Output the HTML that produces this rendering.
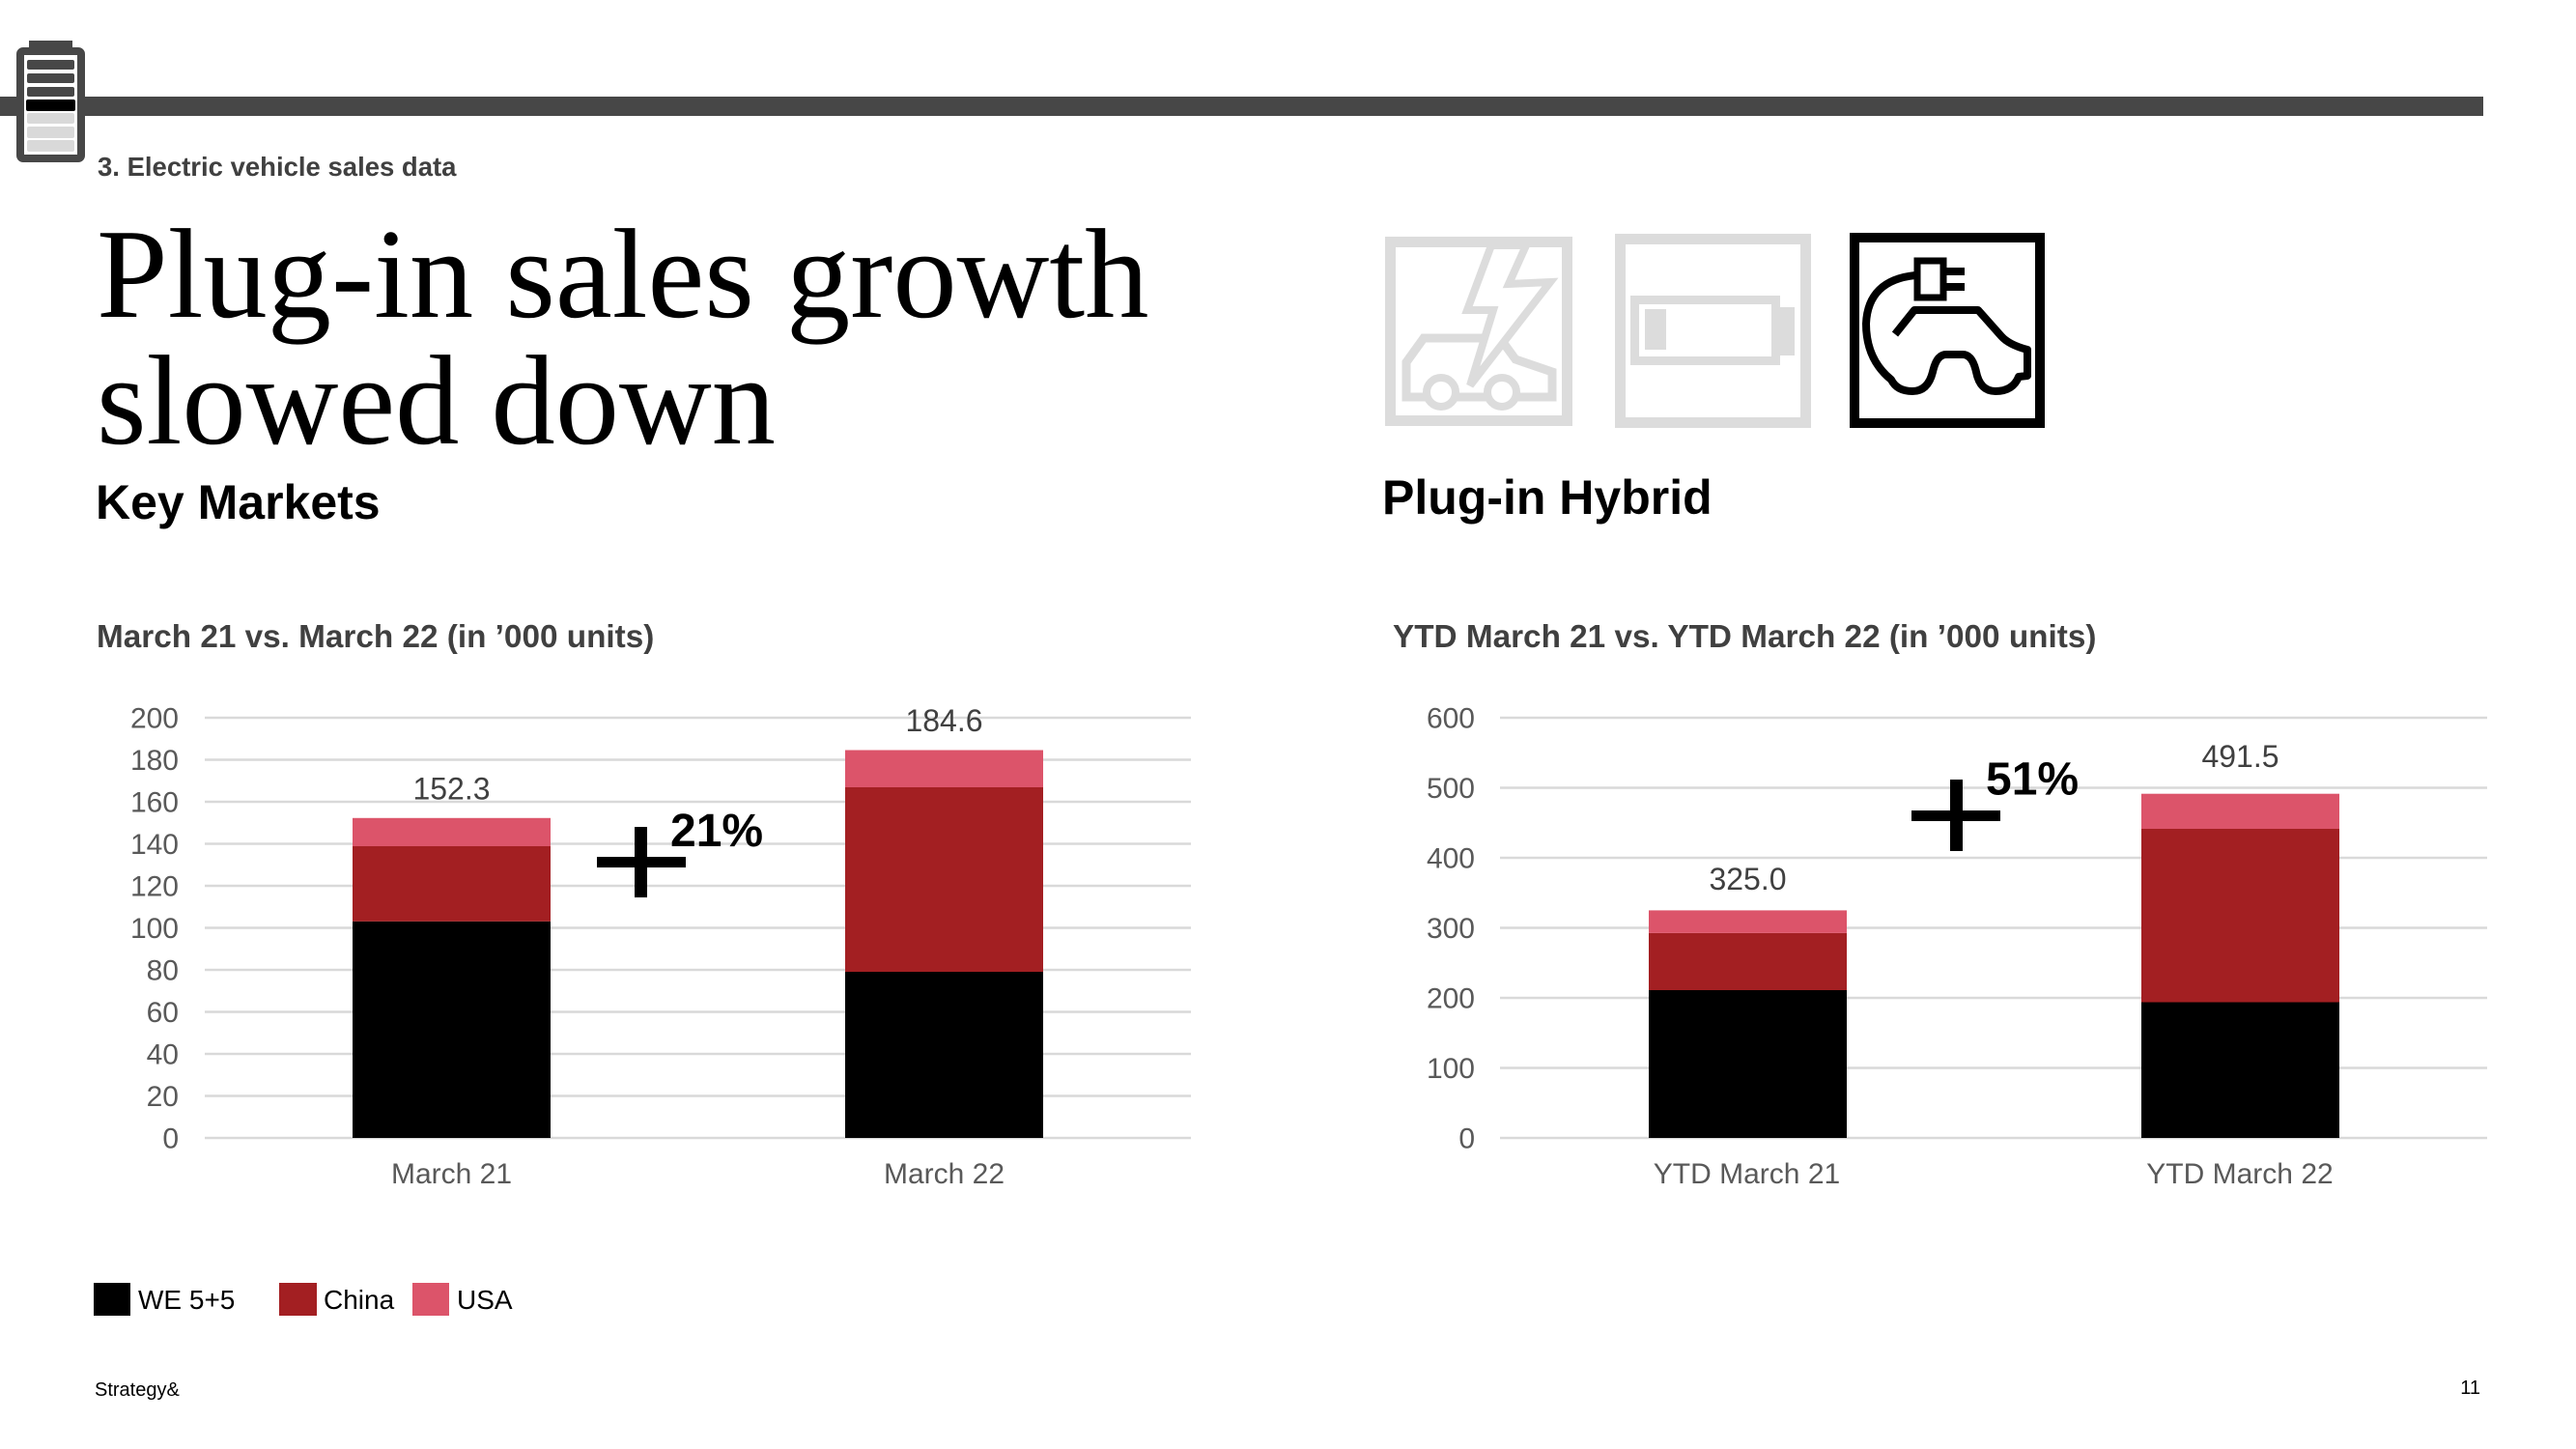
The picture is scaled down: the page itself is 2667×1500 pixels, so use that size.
<!DOCTYPE html>
<html>
<head>
<meta charset="utf-8">
<style>
  html, body { margin: 0; padding: 0; background: #ffffff; }
  body { width: 2667px; height: 1500px; overflow: hidden; }
  svg { display: block; }
  .sans { font-family: "Liberation Sans", Arial, sans-serif; }
  .serif { font-family: "Liberation Serif", "Times New Roman", serif; }
</style>
</head>
<body>
<svg width="2667" height="1500" viewBox="0 0 2667 1500" xmlns="http://www.w3.org/2000/svg">
  <rect x="0" y="0" width="2667" height="1500" fill="#ffffff"/>

  <!-- top bar -->
  <rect x="0" y="100" width="2571" height="20" fill="#474747"/>

  <!-- battery icon -->
  <rect x="30" y="42" width="45" height="10" fill="#474747"/>
  <rect x="21" y="53" width="63" height="111" rx="3" fill="#ffffff" stroke="#474747" stroke-width="8"/>
  <rect x="28" y="62" width="49" height="10" rx="2" fill="#474747"/>
  <rect x="28" y="76" width="49" height="10" rx="2" fill="#474747"/>
  <rect x="28" y="90" width="49" height="10" rx="2" fill="#474747"/>
  <rect x="27" y="103" width="51" height="12" rx="2" fill="#000000"/>
  <rect x="28" y="117" width="49" height="11" rx="2" fill="#d9d9d9"/>
  <rect x="28" y="131" width="49" height="12" rx="2" fill="#d9d9d9"/>
  <rect x="28" y="145" width="49" height="12" rx="2" fill="#d9d9d9"/>

  <!-- section label -->
  <text x="101" y="182" class="sans" font-size="27.5" font-weight="bold" fill="#404040">3. Electric vehicle sales data</text>

  <!-- title -->
  <text x="100" y="328" class="serif" font-size="132.5" fill="#000000">Plug-in sales growth</text>
  <text x="100" y="459" class="serif" font-size="132.5" fill="#000000">slowed down</text>

  <!-- headings -->
  <text x="99" y="537" class="sans" font-size="50" font-weight="bold" fill="#000000">Key Markets</text>
  <text x="1431" y="532" class="sans" font-size="50" font-weight="bold" fill="#000000">Plug-in Hybrid</text>

  <!-- icons -->
  <!-- box 1: lightning car (light gray) -->
  <rect x="1439.5" y="250.5" width="183" height="185" fill="none" stroke="#dcdcdc" stroke-width="11"/>
  <path d="M1456,411 L1456,375 L1474,350 L1553,350 L1569,372 L1607,385 L1607,411 Z" fill="none" stroke="#dcdcdc" stroke-width="9" stroke-linejoin="miter"/>
  <circle cx="1492" cy="406" r="15" fill="#ffffff" stroke="#dcdcdc" stroke-width="8"/>
  <circle cx="1555" cy="406" r="15" fill="#ffffff" stroke="#dcdcdc" stroke-width="8"/>
  <path d="M1544,254 L1580,254 L1562,294 L1605,292 L1522,399 L1546,321 L1519,321 Z" fill="#ffffff" stroke="#dcdcdc" stroke-width="8" stroke-linejoin="miter"/>

  <!-- box 2: battery (light gray) -->
  <rect x="1677.5" y="247.5" width="192" height="190" fill="none" stroke="#dcdcdc" stroke-width="11"/>
  <rect x="1692.5" y="310.5" width="146" height="63" fill="none" stroke="#dcdcdc" stroke-width="9"/>
  <rect x="1843" y="318" width="15" height="50" fill="#dcdcdc"/>
  <rect x="1703" y="320" width="22" height="42" fill="#dcdcdc"/>

  <!-- box 3: EV plug car (black) -->
  <rect x="1920" y="246" width="192" height="192" fill="none" stroke="#000000" stroke-width="10"/>
  <rect x="1985" y="270" width="27" height="38" fill="none" stroke="#000000" stroke-width="7"/>
  <rect x="2012" y="277" width="22" height="8" fill="#000000"/>
  <rect x="2012" y="293" width="22" height="8" fill="#000000"/>
  <path d="M1962,346 L1982,321 L2048,321 L2072,348 Q2080,357 2099,362 L2099,389 L2090,390 Q2084,405 2066,405 Q2050,405 2046,385 Q2042,367 2032,367 L2015,367 Q2005,367 2001,385 Q1996,405 1980,405 Q1964,405 1958,393 Q1932,372 1932,335 Q1934,290 1983,285" fill="none" stroke="#000000" stroke-width="8" stroke-linejoin="round"/>

  <!-- chart subtitles -->
  <text x="100" y="670" class="sans" font-size="33.3" font-weight="bold" fill="#404040">March 21 vs. March 22 (in ’000 units)</text>
  <text x="1442" y="670" class="sans" font-size="33.3" font-weight="bold" fill="#404040">YTD March 21 vs. YTD March 22 (in ’000 units)</text>

  <!-- chart 1 gridlines -->
  <g stroke="#d9d9d9" stroke-width="2.5">
    <line x1="212" y1="743" x2="1233" y2="743"/>
    <line x1="212" y1="786.5" x2="1233" y2="786.5"/>
    <line x1="212" y1="830" x2="1233" y2="830"/>
    <line x1="212" y1="873.5" x2="1233" y2="873.5"/>
    <line x1="212" y1="917" x2="1233" y2="917"/>
    <line x1="212" y1="960.5" x2="1233" y2="960.5"/>
    <line x1="212" y1="1004" x2="1233" y2="1004"/>
    <line x1="212" y1="1047.5" x2="1233" y2="1047.5"/>
    <line x1="212" y1="1091" x2="1233" y2="1091"/>
    <line x1="212" y1="1134.5" x2="1233" y2="1134.5"/>
    <line x1="212" y1="1178" x2="1233" y2="1178"/>
  </g>
  <g class="sans" font-size="30" fill="#595959" text-anchor="end">
    <text x="185" y="753.5">200</text>
    <text x="185" y="797">180</text>
    <text x="185" y="840.5">160</text>
    <text x="185" y="884">140</text>
    <text x="185" y="927.5">120</text>
    <text x="185" y="971">100</text>
    <text x="185" y="1014.5">80</text>
    <text x="185" y="1058">60</text>
    <text x="185" y="1101.5">40</text>
    <text x="185" y="1145">20</text>
    <text x="185" y="1188.5">0</text>
  </g>

  <!-- chart 1 bars: y(v)=1178-2.175v -->
  <rect x="365" y="953.8" width="205" height="224.2" fill="#000000"/>
  <rect x="365" y="876" width="205" height="77.8" fill="#a31f22"/>
  <rect x="365" y="846.8" width="205" height="29.2" fill="#dc546a"/>

  <rect x="875" y="1006" width="205" height="172" fill="#000000"/>
  <rect x="875" y="815" width="205" height="191" fill="#a31f22"/>
  <rect x="875" y="776.5" width="205" height="38.5" fill="#dc546a"/>

  <g class="sans" font-size="32" fill="#404040" text-anchor="middle">
    <text x="467.5" y="827.5">152.3</text>
    <text x="977.5" y="757">184.6</text>
  </g>
  <g class="sans" font-size="30" fill="#595959" text-anchor="middle">
    <text x="467.5" y="1225">March 21</text>
    <text x="977.5" y="1225">March 22</text>
  </g>

  <!-- +21% -->
  <rect x="618" y="887" width="92" height="11" fill="#000000"/>
  <rect x="657" y="856" width="13" height="73" fill="#000000"/>
  <text x="694" y="876" class="sans" font-size="48" font-weight="bold" fill="#000000">21%</text>

  <!-- chart 2 gridlines -->
  <g stroke="#d9d9d9" stroke-width="2.5">
    <line x1="1553" y1="743" x2="2575" y2="743"/>
    <line x1="1553" y1="815.5" x2="2575" y2="815.5"/>
    <line x1="1553" y1="888" x2="2575" y2="888"/>
    <line x1="1553" y1="960.5" x2="2575" y2="960.5"/>
    <line x1="1553" y1="1033" x2="2575" y2="1033"/>
    <line x1="1553" y1="1105.5" x2="2575" y2="1105.5"/>
    <line x1="1553" y1="1178" x2="2575" y2="1178"/>
  </g>
  <g class="sans" font-size="30" fill="#595959" text-anchor="end">
    <text x="1527" y="753.5">600</text>
    <text x="1527" y="826">500</text>
    <text x="1527" y="898.5">400</text>
    <text x="1527" y="971">300</text>
    <text x="1527" y="1043.5">200</text>
    <text x="1527" y="1116">100</text>
    <text x="1527" y="1188.5">0</text>
  </g>

  <!-- chart 2 bars: y(v)=1178-0.725v -->
  <rect x="1707" y="1025" width="205" height="153" fill="#000000"/>
  <rect x="1707" y="965.9" width="205" height="59.1" fill="#a31f22"/>
  <rect x="1707" y="942.4" width="205" height="23.5" fill="#dc546a"/>

  <rect x="2217" y="1037.5" width="205" height="140.5" fill="#000000"/>
  <rect x="2217" y="858" width="205" height="179.5" fill="#a31f22"/>
  <rect x="2217" y="821.7" width="205" height="36.3" fill="#dc546a"/>

  <g class="sans" font-size="32" fill="#404040" text-anchor="middle">
    <text x="1809.5" y="921">325.0</text>
    <text x="2319.5" y="794">491.5</text>
  </g>
  <g class="sans" font-size="30" fill="#595959" text-anchor="middle">
    <text x="1808.5" y="1225">YTD March 21</text>
    <text x="2319" y="1225">YTD March 22</text>
  </g>

  <!-- +51% -->
  <rect x="1979" y="839" width="92" height="11" fill="#000000"/>
  <rect x="2019" y="807" width="13" height="74" fill="#000000"/>
  <text x="2056" y="822.5" class="sans" font-size="48" font-weight="bold" fill="#000000">51%</text>

  <!-- legend -->
  <rect x="97" y="1328" width="38" height="34" fill="#000000"/>
  <text x="143" y="1355" class="sans" font-size="28" fill="#000000">WE 5+5</text>
  <rect x="289" y="1328" width="39" height="34" fill="#a31f22"/>
  <text x="335" y="1355" class="sans" font-size="28" fill="#000000">China</text>
  <rect x="427" y="1328" width="38" height="34" fill="#dc546a"/>
  <text x="473" y="1355" class="sans" font-size="28" fill="#000000">USA</text>

  <!-- footer -->
  <text x="98" y="1445" class="sans" font-size="20" fill="#000000">Strategy&amp;</text>
  <text x="2568" y="1443" class="sans" font-size="20" fill="#000000" text-anchor="end">11</text>
</svg>
</body>
</html>
